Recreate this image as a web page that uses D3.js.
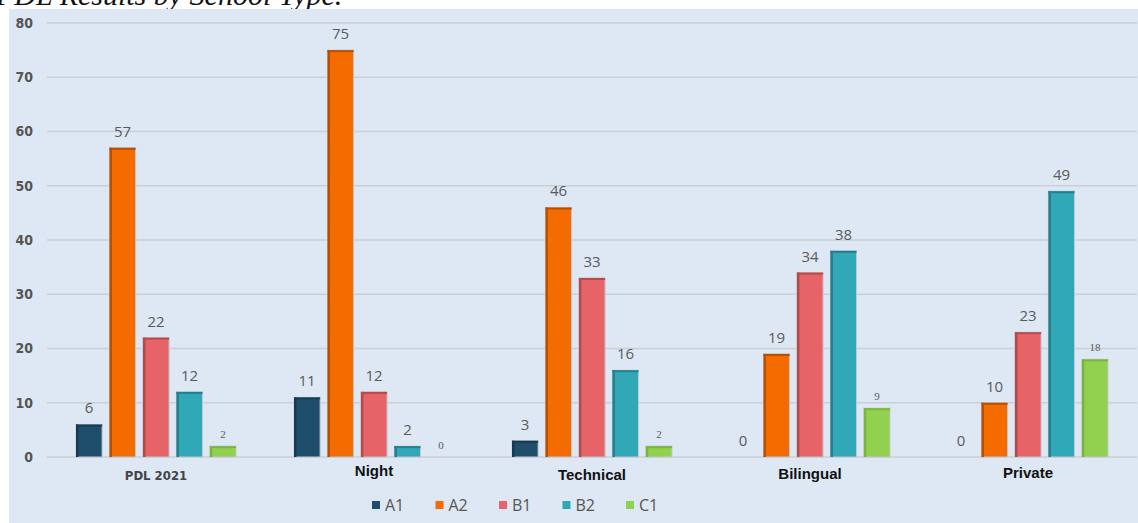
<!DOCTYPE html>
<html>
<head>
<meta charset="utf-8">
<script src="https://cdn.jsdelivr.net/npm/d3@7"></script>
<style>
  body { margin: 0; background: #fff; }
  svg { display: block; }
</style>
</head>
<body>
<div id="chart"></div>
<script>
// data
const categories = ['PDL 2021', 'Night', 'Technical', 'Bilingual', 'Private'];
const levels = ['A1', 'A2', 'B1', 'B2', 'C1'];
const valuesA1 = [6, 11, 3, 0, 0];
const valuesA2 = [57, 75, 46, 19, 10];
const valuesB1 = [22, 12, 33, 34, 23];
const valuesB2 = [12, 2, 16, 38, 49];
const valuesC1 = [2, 0, 2, 9, 18];
const yTicks = [0, 10, 20, 30, 40, 50, 60, 70, 80];
const colors = ['#1f4e6d', '#f46b00', '#e66467', '#31a8b7', '#92d14f'];
const darker = ['#163a52', '#b84f00', '#b54a4d', '#237f8b', '#7bb53f'];

const width = 1138, height = 523;
const margin = { top: 23, right: 1, bottom: 66, left: 47 };
const innerH = height - margin.top - margin.bottom;

const series = [valuesA1, valuesA2, valuesB1, valuesB2, valuesC1];
const rows = categories.map((c, i) => ({
  name: c,
  vals: levels.map((l, k) => ({ key: l, k: k, value: series[k][i] }))
}));

const svg = d3.select('#chart').append('svg')
  .attr('width', width).attr('height', height);

// title, mostly cut off at the top like in the source
svg.append('text')
  .attr('x', -4).attr('y', 5)
  .attr('font-family', '"Liberation Serif", serif')
  .attr('font-style', 'italic')
  .attr('font-size', '30px')
  .attr('fill', '#111')
  .text('PDL Results by School Type.');

svg.append('rect')
  .attr('x', 9).attr('y', 9)
  .attr('width', width - 9).attr('height', height - 9)
  .attr('fill', '#dde8f4');

const g = svg.append('g').attr('transform', `translate(${margin.left},${margin.top})`);

const x0 = d3.scaleBand().domain(categories).range([0, width - margin.left - margin.right]).padding(0);
const x1 = d3.scaleBand().domain(levels).range([29, 189]).paddingInner(0.22).paddingOuter(0);
const y = d3.scaleLinear().domain([0, 80]).range([innerH, 0]);

// gridlines
g.append('g').selectAll('line').data(yTicks).enter().append('line')
  .attr('x1', 0).attr('x2', width - margin.left - margin.right)
  .attr('y1', d => y(d)).attr('y2', d => y(d))
  .attr('stroke', '#cbcfd4').attr('stroke-width', 1.5);

// y axis labels
const yAxis = g.append('g')
  .call(d3.axisLeft(y).tickValues(yTicks).tickSize(0).tickPadding(14));
yAxis.select('.domain').remove();
yAxis.selectAll('text')
  .attr('font-family', '"DejaVu Sans Condensed", "DejaVu Sans", sans-serif')
  .attr('font-weight', 'bold')
  .attr('font-size', '14px')
  .attr('fill', '#555');

// bars
const groups = g.selectAll('.grp').data(rows).enter().append('g')
  .attr('class', 'grp')
  .attr('transform', d => `translate(${x0(d.name)},0)`);

groups.selectAll('rect.bar').data(d => d.vals.filter(v => v.value > 0)).enter().append('rect')
  .attr('class', 'bar')
  .attr('x', d => x1(d.key))
  .attr('y', d => y(d.value))
  .attr('width', x1.bandwidth())
  .attr('height', d => y(0) - y(d.value))
  .attr('fill', d => colors[d.k])
  .attr('stroke', '#c3c8cf')
  .attr('stroke-width', 1);

// darker left edge like the bevel in the picture
groups.selectAll('rect.edge').data(d => d.vals.filter(v => v.value > 0)).enter().append('rect')
  .attr('class', 'edge')
  .attr('x', d => x1(d.key))
  .attr('y', d => y(d.value))
  .attr('width', 2.5)
  .attr('height', d => y(0) - y(d.value))
  .attr('fill', d => darker[d.k]);
groups.selectAll('rect.top').data(d => d.vals.filter(v => v.value > 0)).enter().append('rect')
  .attr('class', 'top')
  .attr('x', d => x1(d.key))
  .attr('y', d => y(d.value))
  .attr('width', x1.bandwidth())
  .attr('height', 2)
  .attr('fill', d => darker[d.k]);

// value labels: C1 uses a tiny serif face
groups.selectAll('text.val').data(d => d.vals).enter().append('text')
  .attr('class', 'val')
  .attr('x', d => x1(d.key) + x1.bandwidth() / 2)
  .attr('y', d => y(d.value) - (d.key === 'C1' ? 8 : 11))
  .attr('text-anchor', 'middle')
  .attr('font-family', d => d.key === 'C1' ? '"Liberation Serif", serif' : '"Open Sans", sans-serif')
  .attr('font-size', d => d.key === 'C1' ? '11px' : '15px')
  .attr('fill', '#5a5a5a')
  .text(d => d.value);

// category labels
const catStyle = {
  'PDL 2021': { font: '"DejaVu Sans Condensed", sans-serif', size: 13, color: '#444', dy: 18 },
  'Night': { font: '"Liberation Sans", Arial, sans-serif', size: 15, color: '#111', dy: 14 },
  'Technical': { font: '"Liberation Sans", Arial, sans-serif', size: 15, color: '#111', dy: 18 },
  'Bilingual': { font: '"Liberation Sans", Arial, sans-serif', size: 15, color: '#111', dy: 17 },
  'Private': { font: '"Liberation Sans", Arial, sans-serif', size: 15, color: '#111', dy: 16 }
};
g.selectAll('text.cat').data(categories).enter().append('text')
  .attr('class', 'cat')
  .attr('x', d => x0(d) + x0.bandwidth() / 2)
  .attr('y', d => innerH + catStyle[d].dy + 5)
  .attr('text-anchor', 'middle')
  .attr('font-family', d => catStyle[d].font)
  .attr('font-weight', 'bold')
  .attr('font-size', d => catStyle[d].size + 'px')
  .attr('fill', d => catStyle[d].color)
  .text(d => d);

// legend
const legend = svg.append('g').attr('transform', 'translate(371,505)');
const item = legend.selectAll('g').data(levels).enter().append('g')
  .attr('transform', (d, i) => `translate(${i * 63.5},0)`);
item.append('rect')
  .attr('x', 1).attr('y', -4)
  .attr('width', 8).attr('height', 8)
  .attr('fill', (d, i) => colors[i]);
item.append('text')
  .attr('x', 14).attr('y', 5.5)
  .attr('font-family', '"Open Sans", sans-serif')
  .attr('font-size', '16px')
  .attr('fill', '#555')
  .text(d => d);
</script>
</body>
</html>
